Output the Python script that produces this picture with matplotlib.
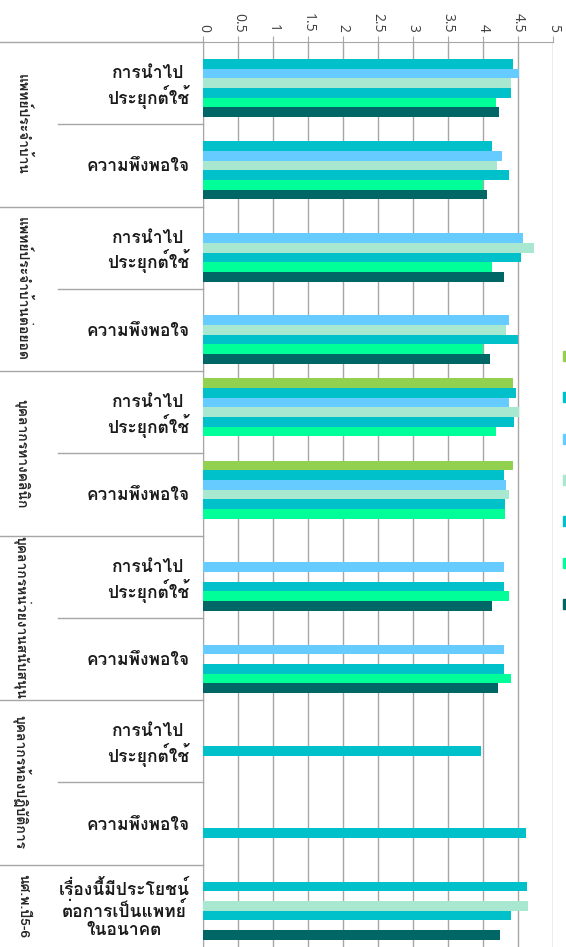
import numpy as np
import matplotlib
matplotlib.use("Agg")
import matplotlib.pyplot as plt
from matplotlib.transforms import blended_transform_factory
from matplotlib.patches import Rectangle

nan = np.nan

# ---------------- data ----------------
groups = ["แพทย์ประจำบ้าน", "แพทย์ประจำบ้านต่อยอด", "บุคลากรทางคลินิก",
          "บุคลากรหน่วยงานสนับสนุน", "บุคลากรห้องปฏิบัติการ", "นศ.พ.ปี5-6"]
group_sizes = [2, 2, 2, 2, 2, 1]
categories = ["การนำไป\nประยุกต์ใช้", "ความพึงพอใจ",
              "การนำไป\nประยุกต์ใช้", "ความพึงพอใจ",
              "การนำไป\nประยุกต์ใช้", "ความพึงพอใจ",
              "การนำไป\nประยุกต์ใช้", "ความพึงพอใจ",
              "การนำไป\nประยุกต์ใช้", "ความพึงพอใจ",
              "เรื่องนี้มีประโยชน์\nต่อการเป็นแพทย์\nในอนาคต"]

s1 = [nan, nan, nan, nan, 4.42, 4.42, nan, nan, nan, nan, nan]
s2 = [4.42, 4.13, nan, nan, 4.47, 4.29, nan, nan, nan, nan, 4.62]
s3 = [4.51, 4.27, 4.57, 4.37, 4.37, 4.33, 4.29, 4.29, nan, nan, nan]
s4 = [4.40, 4.20, 4.72, 4.32, 4.51, 4.37, nan, nan, nan, nan, 4.64]
s5 = [4.40, 4.36, 4.54, 4.50, 4.44, 4.31, 4.30, 4.29, 3.97, 4.61, 4.39]
s6 = [4.18, 4.00, 4.13, 4.00, 4.18, 4.31, 4.37, 4.39, nan, nan, nan]
s7 = [4.22, 4.05, 4.29, 4.09, nan, nan, 4.12, 4.21, nan, nan, 4.24]
series = [s1, s2, s3, s4, s5, s6, s7]
colors = ["#92D050", "#00C0CA", "#66CCFF", "#A8E8D0", "#00C0CA", "#00FF99", "#006666"]

xticks = [0, 0.5, 1, 1.5, 2, 2.5, 3, 3.5, 4, 4.5, 5]
xticklabels = ["0", "0.5", "1", "1.5", "2", "2.5", "3", "3.5", "4", "4.5", "5"]

# ---------------- fonts ----------------
plt.rcParams["font.family"] = ["Loma", "Noto Sans Thai Looped", "DejaVu Sans"]

# ---------------- figure ----------------
W, H = 566, 947
fig = plt.figure(figsize=(W / 100, H / 100), dpi=100)
x0, x5, ytop = 203.3, 553.3, 42
ax = fig.add_axes([x0 / W, 0, (x5 - x0) / W, (H - ytop) / H])

n = len(categories)
idx = np.arange(n)
ns = len(series)
w = 1 / 8.5
for j, (vals, c) in enumerate(zip(series, colors)):
    ax.barh(idx + (j - (ns - 1) / 2) * w, vals, height=w, color=c, zorder=3)

ax.set_xlim(0, 5)
ax.set_ylim(n - 0.5, -0.5)
ax.xaxis.tick_top()
ax.set_xticks(xticks)
ax.set_xticklabels(xticklabels, rotation=-90, fontsize=10, color="#404040",
                   family=["Open Sans", "DejaVu Sans"])
ax.tick_params(axis="x", length=4, color="#A6A6A6", pad=3)
ax.grid(axis="x", color="#A6A6A6", lw=1, zorder=0)
ax.set_axisbelow(True)

ax.set_yticks(idx)
ax.set_yticklabels(categories, fontsize=12.5, fontweight="bold", color="#1A1A1A")
for lbl in ax.get_yticklabels():
    lbl.set_multialignment("center")
    lbl.set_linespacing(1.2)
ax.tick_params(axis="y", length=0, pad=10)

for s in ["right", "bottom"]:
    ax.spines[s].set_visible(False)
for s in ["top", "left"]:
    ax.spines[s].set_color("#A6A6A6")

axw = x5 - x0
tr = blended_transform_factory(ax.transAxes, ax.transData)
starts = np.cumsum([0] + group_sizes)
for gi, g in enumerate(groups):
    b = starts[gi] - 0.5
    ax.plot([-x0 / axw, 0], [b, b], transform=tr, clip_on=False, color="#A6A6A6", lw=1)
    for k in range(1, group_sizes[gi]):
        bb = starts[gi] + k - 0.5
        ax.plot([(58 - x0) / axw, 0], [bb, bb], transform=tr, clip_on=False,
                color="#A6A6A6", lw=1)
    cy = starts[gi] + group_sizes[gi] / 2 - 0.5
    ax.text((22 - x0) / axw, cy, g, transform=tr, rotation=-90, ha="center",
            va="center", fontsize=10, fontweight="bold", color="#262626")

# legend (text is outside the visible canvas in the reference)
for k, c in enumerate(colors):
    yc = 356 + k * 41.3
    fig.add_artist(Rectangle((563 / W, 1 - (yc + 5) / H), 5 / W, 10 / H,
                             transform=fig.transFigure, color=c))

fig.savefig("out.png", dpi=100)
